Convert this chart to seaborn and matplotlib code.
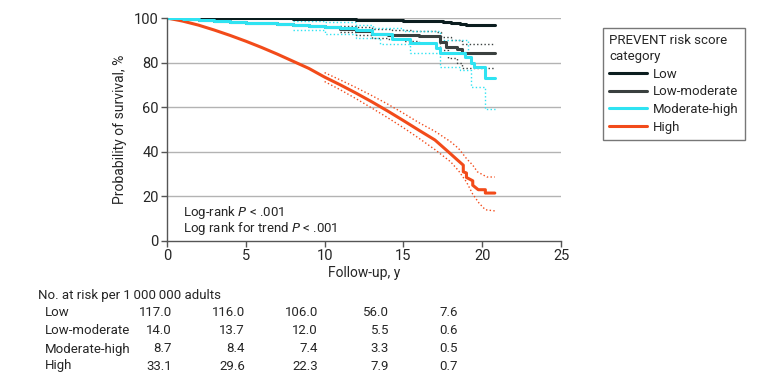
import pandas as pd
import seaborn as sns
import matplotlib
import matplotlib.pyplot as plt
from matplotlib.lines import Line2D

matplotlib.use('Agg')

# Kaplan-Meier estimates (time in years, survival in %)
low_t = [0, 4, 8, 12, 15, 16.5, 17.5, 18.0, 18.6, 19.0, 20.8]
low_s = [100, 99.8, 99.5, 99.1, 98.8, 98.5, 98.2, 97.8, 97.3, 96.8, 96.8]

lowmod_t = [0, 1, 2, 3, 4, 5, 6, 7, 8, 9, 10, 11, 12, 13, 14, 15, 16, 17.3, 17.7, 18.4, 18.7, 20.8]
lowmod_s = [100, 99.4, 98.9, 98.5, 98.2, 97.9, 97.6, 97.2, 96.8, 96.3, 95.8, 95.0, 94.0, 93.0, 92.5,
            92.2, 91.8, 89.4, 87.1, 86.0, 84.2, 84.2]
lowmod_hi_t = [11, 12, 13, 14.3, 15.5, 17.1, 17.4, 18.0, 18.7, 20.8]
lowmod_hi = [96.5, 95.8, 95.0, 94.5, 94.2, 93.9, 91.6, 90.0, 88.5, 88.5]
lowmod_lo_t = [11, 12, 13, 14, 15, 16, 17.3, 17.8, 18.4, 18.7, 20.8]
lowmod_lo = [93.5, 92.3, 91.0, 90.5, 89.8, 89.0, 85.5, 81.9, 80.0, 77.4, 77.4]

modhigh_t = [0, 1, 2, 3, 4, 5, 6, 7, 8, 9, 10, 11, 12, 13, 14.3, 15.4, 17.1, 17.3, 18.9, 19.3,
             19.5, 20.15, 20.8]
modhigh_s = [100, 99.5, 99.0, 98.6, 98.3, 97.9, 97.6, 97.3, 96.9, 96.5, 96.0, 95.3, 94.5, 93.0,
             90.8, 88.6, 86.4, 84.2, 82.6, 79.7, 78.2, 73.0, 73.0]
modhigh_hi_t = [8, 10, 12, 13.1, 15, 17.3, 19.1, 20.8]
modhigh_hi = [98.5, 98.0, 97.0, 95.5, 94.0, 90.0, 84.2, 84.0]
modhigh_lo_t = [8, 10, 12, 13.5, 15.4, 17.3, 18.6, 19.3, 20.2, 20.8]
modhigh_lo = [94.5, 93.0, 91.0, 88.5, 84.2, 78.0, 76.8, 69.0, 59.0, 59.0]

high_t = [0, 1, 2, 3, 4, 5, 6, 7, 8, 9, 10, 11, 12, 13, 14, 15, 16, 17, 17.85,
          18.4, 18.8, 18.8, 19.0, 19.0, 19.4, 19.4, 19.75, 20.2, 20.2, 20.8]
high_s = [100, 98.6, 96.8, 94.6, 92.2, 89.6, 86.8, 83.8, 80.6, 77.4, 73.5, 70.0, 66.3,
          62.4, 58.3, 54.0, 49.6, 45.3, 40.0, 36.5, 34.0, 31.0, 30.5, 28.5, 27.0, 25.0,
          23.0, 23.0, 21.5, 21.5]
high_hi_t = [10, 11, 12, 13, 14, 15, 16, 17, 18, 18.5, 19.0, 19.4, 19.7, 20.3, 20.8]
high_hi = [75.5, 72.2, 68.8, 65.2, 61.4, 57.3, 53.0, 49.2, 44.5, 41.5, 37.0, 34.0, 31.0, 28.7, 28.7]
high_lo_t = [10, 11, 12, 13, 14, 15, 16, 17, 18, 18.5, 19.0, 19.4, 19.8, 20.2, 20.8]
high_lo = [71.5, 67.8, 63.8, 59.6, 55.3, 50.8, 46.0, 41.0, 35.5, 31.5, 26.5, 21.0, 17.0, 14.0, 13.5]

categories = ["Low", "Low-moderate", "Moderate-high", "High"]
colors = ["#0b1d1f", "#3a403f", "#2fe3f2", "#f24b1a"]

# numbers at risk table
risk_low = ["117.0", "116.0", "106.0", "56.0", "7.6"]
risk_lowmod = ["14.0", "13.7", "12.0", "5.5", "0.6"]
risk_modhigh = ["8.7", "8.4", "7.4", "3.3", "0.5"]
risk_high = ["33.1", "29.6", "22.3", "7.9", "0.7"]

sns.set_style("white")
plt.rcParams['font.family'] = ['Roboto', 'DejaVu Sans']

fig = plt.figure(figsize=(7.8, 3.82), dpi=100)
ax = fig.add_axes([167 / 780, 1 - 241 / 382, (561 - 167) / 780, (241 - 18) / 382])

palette = dict(zip(categories, colors))

step_curves = pd.concat([
    pd.DataFrame({"t": low_t, "s": low_s, "cat": "Low"}),
    pd.DataFrame({"t": lowmod_t, "s": lowmod_s, "cat": "Low-moderate"}),
    pd.DataFrame({"t": modhigh_t, "s": modhigh_s, "cat": "Moderate-high"}),
])
step_bands = pd.concat([
    pd.DataFrame({"t": lowmod_lo_t, "s": lowmod_lo, "cat": "Low-moderate", "b": "lo"}),
    pd.DataFrame({"t": lowmod_hi_t, "s": lowmod_hi, "cat": "Low-moderate", "b": "hi"}),
    pd.DataFrame({"t": modhigh_lo_t, "s": modhigh_lo, "cat": "Moderate-high", "b": "lo"}),
    pd.DataFrame({"t": modhigh_hi_t, "s": modhigh_hi, "cat": "Moderate-high", "b": "hi"}),
])
high_band = pd.concat([
    pd.DataFrame({"t": high_lo_t, "s": high_lo, "b": "lo"}),
    pd.DataFrame({"t": high_hi_t, "s": high_hi, "b": "hi"}),
])
high_curve = pd.DataFrame({"t": high_t, "s": high_s})

for gy in [20, 40, 60, 80, 100]:
    ax.axhline(gy, color="#b3b3b3", lw=1.0, zorder=0)

# dotted 95% CI lines
sns.lineplot(data=step_bands, x="t", y="s", hue="cat", units="b", estimator=None,
             palette=palette, drawstyle="steps-post", sort=False,
             linestyle=":", lw=1.0, legend=False, ax=ax)
sns.lineplot(data=high_band, x="t", y="s", units="b", estimator=None, sort=False,
             color=colors[3], linestyle=":", lw=1.0, legend=False, ax=ax)

# survival curves
sns.lineplot(data=high_curve, x="t", y="s", estimator=None, sort=False,
             color=colors[3], lw=2.2, legend=False, ax=ax)
sns.lineplot(data=step_curves, x="t", y="s", hue="cat", estimator=None,
             palette=palette, drawstyle="steps-post", sort=False,
             lw=2.2, legend=False, ax=ax)

ax.set_xlim(0, 25)
ax.set_ylim(0, 100)
ax.set_xticks([0, 5, 10, 15, 20, 25])
ax.set_yticks([0, 20, 40, 60, 80, 100])
for s in ["top", "right"]:
    ax.spines[s].set_visible(False)
for s in ["left", "bottom"]:
    ax.spines[s].set_color("#555555")
    ax.spines[s].set_linewidth(1.0)
ax.tick_params(axis="both", direction="out", length=4, width=1, color="#555555",
               labelsize=10.5, pad=2, bottom=True, left=True)
ax.set_xlabel("Follow-up, y", fontsize=10, labelpad=2)
ax.set_ylabel("Probability of survival, %", fontsize=10, labelpad=5)

ax.text(1.0, 13, "Log-rank $\\it{P}$ < .001", fontsize=9.5, va="center")
ax.text(1.0, 5.4, "Log rank for trend $\\it{P}$ < .001", fontsize=9.5, va="center")

handles = [Line2D([0], [0], color=c, lw=2.2) for c in colors]
leg = fig.legend(handles, categories, title="PREVENT risk score\ncategory",
                 loc="upper left", bbox_to_anchor=(596 / 780, 1 - 21 / 382),
                 fontsize=9.5, title_fontsize=9.5, frameon=True, fancybox=False,
                 handlelength=2.9, handletextpad=0.4, labelspacing=0.35,
                 borderpad=0.5, alignment="left")
leg.get_frame().set_edgecolor("#555555")
leg.get_frame().set_linewidth(1.0)
leg.get_title().set_linespacing(1.3)

# number at risk table
fig.text(38 / 780, 1 - 296 / 382, "No. at risk per 1\u2009000\u2009000 adults",
         fontsize=9.5, va="center")
rows = [risk_low, risk_lowmod, risk_modhigh, risk_high]
row_y = [313, 331, 349, 366]
col_x = [172, 245, 318, 389, 458]
for name, vals, yy in zip(categories, rows, row_y):
    fig.text(45 / 780, 1 - yy / 382, name, fontsize=9.5, va="center")
    for v, xx in zip(vals, col_x):
        fig.text(xx / 780, 1 - yy / 382, v, fontsize=9.5, va="center", ha="right")

fig.savefig("out.png", dpi=100)
